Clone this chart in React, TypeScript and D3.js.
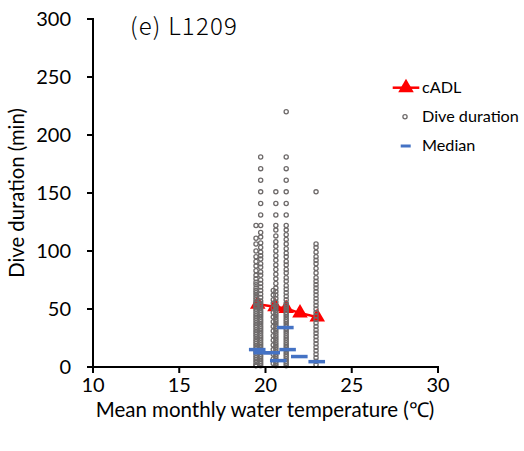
import React from "react";
import * as d3 from "d3";

// ---- data ----
const xTicks = [10, 15, 20, 25, 30];
const yTicks = [0, 50, 100, 150, 200, 250, 300];

// cADL (red line with triangles)
const cadlTemp = [19.55, 20.55, 21.2, 22.0, 23.0];
const cadlValue = [54, 52, 50.5, 46.5, 43];

// Median dashes
const medianTemp = [19.52, 19.78, 20.36, 20.74, 21.15, 21.28, 21.96, 22.97];
const medianValue = [15, 12.3, 12.3, 5.5, 34, 15, 9, 4.6];

// Dive durations per monthly temperature
const diveTempA = 19.45;
const diveA = [122, 111, 106, 100, 95, 91, 87, 83, 79, 76, 73, 71, 68, 66, 64, 62, 60, 58, 56, 55, 53, 52, 50, 48, 46, 44, 42, 40, 38, 36, 34, 32, 30, 28, 26, 24, 22, 20, 18, 16, 14, 12, 10, 8, 6, 4, 2, 1];
const diveTempB = 19.72;
const diveB = [181, 171, 161, 151, 141, 131, 122, 116, 112, 107, 103, 99, 96, 93, 89, 86, 82, 79, 75, 72, 69, 66, 63, 60, 57, 55, 53, 51, 49, 47, 45, 43, 41, 39, 37, 35, 33, 31, 29, 27, 25, 23, 21, 19, 17, 15, 13, 11, 9, 7, 5, 3, 1];
const diveTempC = 20.45;
const diveC = [66, 62, 58, 55, 51, 47, 43, 39, 35, 31, 27, 23, 19, 15, 11, 7, 3];
const diveTempD = 20.6;
const diveD = [151, 141, 131, 122, 118, 113, 108, 104, 100, 96, 92, 88, 84, 80, 76, 72, 68, 65, 62, 59, 56, 53, 51, 49, 47, 45, 43, 41, 39, 37, 35, 33, 31, 29, 27, 25, 23, 21, 19, 17, 15, 13, 11, 9, 7, 5, 3, 1];
const diveTempE = 21.2;
const diveE = [220, 181, 171, 161, 151, 141, 131, 122, 118, 114, 110, 106, 102, 98, 95, 91, 88, 84, 81, 77, 74, 70, 67, 64, 61, 58, 55, 53, 51, 49, 47, 45, 43, 41, 39, 37, 35, 33, 31, 29, 27, 25, 23, 21, 19, 17, 15, 13, 11, 9, 7, 5, 3, 1];
const diveTempF = 22.93;
const diveF = [151, 106, 103, 99, 95, 92, 89, 85, 81, 77, 74, 71, 68, 65, 62, 59, 56, 53, 50, 47, 44, 41, 38, 35, 32, 29, 26, 23, 20, 17, 14, 11, 8, 5, 2];

const diveGroups: [number, number[]][] = [
  [diveTempA, diveA],
  [diveTempB, diveB],
  [diveTempC, diveC],
  [diveTempD, diveD],
  [diveTempE, diveE],
  [diveTempF, diveF],
];

const FONT = "Lato, 'Liberation Sans', sans-serif";

export default function App() {
  const x = d3.scaleLinear().domain([10, 30]).range([93, 438]);
  const y = d3.scaleLinear().domain([0, 300]).range([367, 19]);

  const cadlPts: [number, number][] = cadlTemp.map((t, i) => [x(t), y(cadlValue[i])]);
  const line = d3.line()(cadlPts) || "";
  const tri = d3.symbol().type(d3.symbolTriangle).size(105)() || "";

  const dots: { cx: number; cy: number }[] = [];
  diveGroups.forEach(([t, vals]) => vals.forEach((v) => dots.push({ cx: x(t), cy: y(v) })));

  return (
    <svg width={524} height={451} style={{ position: "absolute", left: 0, top: 0, background: "#fff" }}>
      <rect width={524} height={451} fill="#fff" />
      {/* cADL line under dots */}
      <path d={line} fill="none" stroke="#FF0000" strokeWidth={2.5} />
      {cadlPts.map((p, i) => (
        <path key={"t" + i} d={tri} transform={`translate(${p[0]},${p[1]})`} fill="#FF0000" />
      ))}
      {/* dots */}
      {dots.map((d, i) => (
        <circle key={"d" + i} cx={d.cx} cy={d.cy} r={2.1} fill="none" stroke="#6E6A6A" strokeWidth={1.3} />
      ))}
      {/* medians */}
      {medianTemp.map((t, i) => (
        <line key={"m" + i} x1={x(t) - 8.3} x2={x(t) + 8.3} y1={y(medianValue[i])} y2={y(medianValue[i])} stroke="#4472C4" strokeWidth={3.5} />
      ))}
      {/* axes */}
      <line x1={x(10)} x2={x(30) + 1} y1={y(0)} y2={y(0)} stroke="#000" strokeWidth={2} />
      <line x1={x(10)} x2={x(10)} y1={y(0) + 1} y2={y(300) - 1} stroke="#000" strokeWidth={2} />
      {xTicks.map((t) => (
        <g key={"xt" + t}>
          <line x1={x(t)} x2={x(t)} y1={y(0)} y2={y(0) + 6} stroke="#000" strokeWidth={2} />
          <text x={x(t)} y={392} textAnchor="middle" fontFamily={FONT} fontSize={20} fill="#000">{t}</text>
        </g>
      ))}
      {yTicks.map((t) => (
        <g key={"yt" + t}>
          <line x1={x(10) - 6} x2={x(10)} y1={y(t)} y2={y(t)} stroke="#000" strokeWidth={2} />
          <text x={71} y={y(t) + 7} textAnchor="end" fontFamily={FONT} fontSize={20} fill="#000">{t}</text>
        </g>
      ))}
      {/* axis titles */}
      <text x={265} y={417} textAnchor="middle" fontFamily={FONT} fontSize={20.5} fill="#000">Mean monthly water temperature (℃)</text>
      <text transform="translate(24,193) rotate(-90)" textAnchor="middle" fontFamily={FONT} fontSize={20.3} fill="#000">Dive duration (min)</text>
      {/* panel title */}
      <text x={130} y={35} fontFamily="'Noto Sans CJK JP', sans-serif" fontWeight={300} fontSize={24} letterSpacing={1.2} fill="#000">(e) L1209</text>
      {/* legend */}
      <line x1={392.7} x2={419.3} y1={87.7} y2={87.7} stroke="#FF0000" strokeWidth={2.5} />
      <path d={tri} transform="translate(406,87.7)" fill="#FF0000" />
      <text x={422} y={93} fontFamily={FONT} fontSize={16.2} fill="#000">cADL</text>
      <circle cx={405} cy={116.7} r={2.1} fill="none" stroke="#6E6A6A" strokeWidth={1.3} />
      <text x={422} y={122} fontFamily={FONT} fontSize={16.2} fill="#000">Dive duration</text>
      <line x1={400.7} x2={410.7} y1={146} y2={146} stroke="#4472C4" strokeWidth={3} />
      <text x={422} y={151} fontFamily={FONT} fontSize={16.2} fill="#000">Median</text>
    </svg>
  );
}
